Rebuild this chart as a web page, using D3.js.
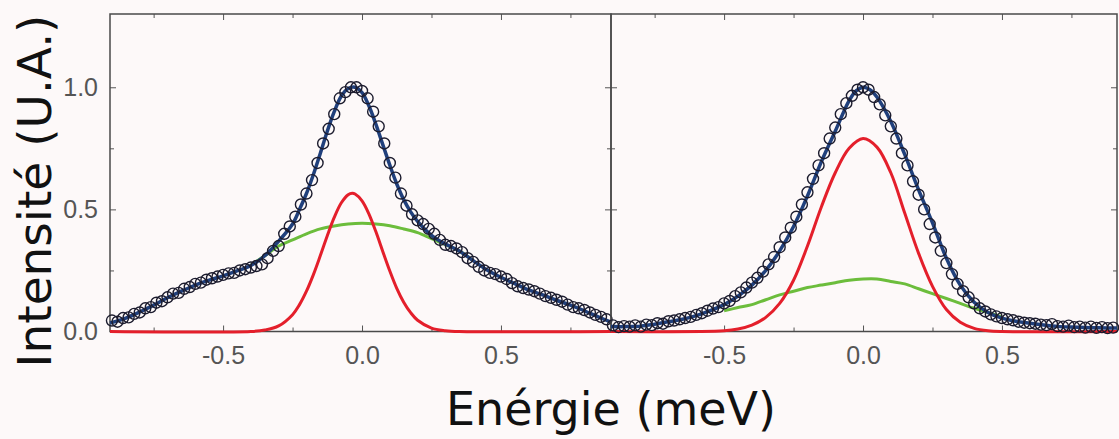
<!DOCTYPE html>
<html><head><meta charset="utf-8">
<script src="https://cdn.jsdelivr.net/npm/d3@7"></script>
<style>html,body{margin:0;padding:0;background:#fdf9f9;}svg{display:block;}</style>
</head><body>
<svg id="chart" width="1119" height="439"></svg>
<script>
// ---------- data ----------
const xTickMajor = [-0.5, 0.0, 0.5];
const xTickMinor = [-0.75, -0.25, 0.25, 0.75];
const yTickMajor = [0.0, 0.5, 1.0];
const yTickMinor = [0.25, 0.75];
const xTickLabels = ["-0.5", "0.0", "0.5"];
const yTickLabels = ["0.0", "0.5", "1.0"];
const xLabel = "Enérgie (meV)";
const yLabel = "Intensité (U.A.)";

// Left panel
const leftFitX = [-0.907,-0.85,-0.80,-0.75,-0.70,-0.65,-0.60,-0.55,-0.50,-0.45,-0.40,-0.35,-0.30,-0.25,-0.225,-0.20,-0.175,-0.15,-0.125,-0.10,-0.075,-0.05,-0.025,0.0,0.025,0.05,0.075,0.10,0.125,0.15,0.175,0.20,0.25,0.30,0.35,0.40,0.45,0.50,0.55,0.60,0.65,0.70,0.75,0.80,0.85,0.896];
const leftFitY = [0.035,0.055,0.08,0.108,0.138,0.165,0.19,0.21,0.228,0.248,0.27,0.31,0.37,0.44,0.50,0.565,0.643,0.73,0.82,0.90,0.963,0.995,1.0,0.978,0.923,0.848,0.764,0.681,0.604,0.54,0.49,0.451,0.394,0.358,0.33,0.29,0.252,0.222,0.196,0.17,0.15,0.128,0.108,0.085,0.06,0.038];
const leftRedX = [-0.907,-0.40,-0.35,-0.30,-0.25,-0.225,-0.20,-0.175,-0.15,-0.125,-0.10,-0.075,-0.05,-0.035,-0.025,0.0,0.025,0.05,0.075,0.10,0.125,0.15,0.175,0.20,0.25,0.30,0.35,0.896];
const leftRedY = [0,0,0.006,0.023,0.069,0.11,0.165,0.233,0.311,0.392,0.467,0.526,0.56,0.566,0.563,0.535,0.481,0.408,0.327,0.248,0.177,0.12,0.077,0.046,0.014,0.0035,0,0];
const leftGreenX = [-0.40,-0.35,-0.30,-0.25,-0.20,-0.15,-0.10,-0.05,0.0,0.05,0.10,0.15,0.20,0.25,0.30,0.35,0.40];
const leftGreenY = [0.272,0.31,0.35,0.375,0.40,0.42,0.432,0.44,0.443,0.44,0.433,0.42,0.405,0.38,0.356,0.33,0.29];
const leftDataX = [-0.90,-0.88,-0.86,-0.84,-0.82,-0.80,-0.78,-0.76,-0.74,-0.72,-0.70,-0.68,-0.66,-0.64,-0.62,-0.60,-0.58,-0.56,-0.54,-0.52,-0.50,-0.48,-0.46,-0.44,-0.42,-0.40,-0.38,-0.36,-0.34,-0.32,-0.30,-0.28,-0.26,-0.24,-0.22,-0.20,-0.18,-0.16,-0.14,-0.12,-0.10,-0.08,-0.06,-0.04,-0.02,0.00,0.02,0.04,0.06,0.08,0.10,0.12,0.14,0.16,0.18,0.20,0.22,0.24,0.26,0.28,0.30,0.32,0.34,0.36,0.38,0.40,0.42,0.44,0.46,0.48,0.50,0.52,0.54,0.56,0.58,0.60,0.62,0.64,0.66,0.68,0.70,0.72,0.74,0.76,0.78,0.80,0.82,0.84,0.86,0.88];
const leftDataY = [0.045,0.04,0.055,0.058,0.072,0.078,0.095,0.10,0.118,0.124,0.14,0.155,0.158,0.175,0.182,0.195,0.20,0.212,0.218,0.225,0.232,0.238,0.24,0.25,0.255,0.262,0.268,0.275,0.30,0.33,0.35,0.40,0.43,0.47,0.52,0.565,0.62,0.69,0.77,0.83,0.89,0.955,0.98,1.0,1.0,0.985,0.955,0.90,0.84,0.77,0.69,0.63,0.565,0.515,0.48,0.455,0.44,0.42,0.40,0.375,0.355,0.35,0.34,0.325,0.30,0.285,0.265,0.25,0.24,0.235,0.225,0.215,0.198,0.185,0.178,0.172,0.165,0.155,0.145,0.138,0.13,0.122,0.11,0.10,0.095,0.088,0.078,0.068,0.06,0.05];

// Right panel
const rightFitX = [-0.907,-0.85,-0.80,-0.75,-0.70,-0.65,-0.60,-0.55,-0.50,-0.45,-0.40,-0.35,-0.30,-0.25,-0.20,-0.15,-0.10,-0.05,-0.025,0.0,0.025,0.05,0.10,0.15,0.20,0.25,0.30,0.35,0.40,0.45,0.50,0.55,0.60,0.65,0.70,0.75,0.80,0.85,0.914];
const rightFitY = [0.02,0.02,0.022,0.03,0.04,0.05,0.065,0.085,0.11,0.145,0.19,0.25,0.33,0.43,0.555,0.695,0.82,0.945,0.985,1.0,0.99,0.96,0.86,0.725,0.58,0.445,0.30,0.19,0.12,0.078,0.055,0.042,0.034,0.027,0.021,0.018,0.016,0.015,0.014];
const rightRedX = [-0.907,-0.50,-0.45,-0.40,-0.35,-0.30,-0.25,-0.20,-0.15,-0.10,-0.05,0.0,0.05,0.10,0.15,0.20,0.25,0.30,0.35,0.40,0.45,0.50,0.914];
const rightRedY = [0,0.003,0.01,0.026,0.058,0.115,0.21,0.35,0.51,0.65,0.75,0.79,0.755,0.65,0.485,0.32,0.185,0.09,0.038,0.013,0.003,0,0];
const rightGreenX = [-0.50,-0.45,-0.40,-0.35,-0.30,-0.25,-0.20,-0.15,-0.10,-0.05,0.0,0.05,0.10,0.15,0.20,0.25,0.30,0.35,0.40,0.45,0.50];
const rightGreenY = [0.085,0.098,0.11,0.13,0.15,0.165,0.18,0.19,0.20,0.21,0.215,0.215,0.205,0.195,0.175,0.155,0.135,0.115,0.095,0.078,0.06];
const rightDataX = [-0.90,-0.88,-0.86,-0.84,-0.82,-0.80,-0.78,-0.76,-0.74,-0.72,-0.70,-0.68,-0.66,-0.64,-0.62,-0.60,-0.58,-0.56,-0.54,-0.52,-0.50,-0.48,-0.46,-0.44,-0.42,-0.40,-0.38,-0.36,-0.34,-0.32,-0.30,-0.28,-0.26,-0.24,-0.22,-0.20,-0.18,-0.16,-0.14,-0.12,-0.10,-0.08,-0.06,-0.04,-0.02,0.00,0.02,0.04,0.06,0.08,0.10,0.12,0.14,0.16,0.18,0.20,0.22,0.24,0.26,0.28,0.30,0.32,0.34,0.36,0.38,0.40,0.42,0.44,0.46,0.48,0.50,0.52,0.54,0.56,0.58,0.60,0.62,0.64,0.66,0.68,0.70,0.72,0.74,0.76,0.78,0.80,0.82,0.84,0.86,0.88,0.90];
const rightDataY = [0.025,0.018,0.022,0.02,0.025,0.02,0.028,0.026,0.034,0.032,0.042,0.045,0.05,0.055,0.06,0.068,0.075,0.085,0.094,0.10,0.115,0.125,0.145,0.16,0.18,0.20,0.22,0.245,0.275,0.305,0.345,0.385,0.425,0.47,0.52,0.57,0.625,0.68,0.73,0.79,0.835,0.89,0.935,0.965,0.99,1.0,0.99,0.96,0.93,0.885,0.84,0.79,0.73,0.68,0.615,0.56,0.50,0.44,0.385,0.33,0.28,0.235,0.195,0.165,0.14,0.115,0.095,0.082,0.07,0.062,0.055,0.05,0.046,0.04,0.036,0.034,0.032,0.028,0.026,0.03,0.022,0.02,0.024,0.018,0.02,0.016,0.02,0.015,0.018,0.014,0.016];

// ---------- layout ----------
const svg = d3.select("#chart");
const yTop = 14, yBot = 331.5;
const y = d3.scaleLinear().domain([0, 1.3]).range([yBot, yTop]);
const panels = [
  {x0:110, x1:611, dom:[-0.907, 0.896], fit:[leftFitX,leftFitY], red:[leftRedX,leftRedY], green:[leftGreenX,leftGreenY], data:[leftDataX,leftDataY], yLabels:true},
  {x0:611, x1:1117, dom:[-0.907, 0.914], fit:[rightFitX,rightFitY], red:[rightRedX,rightRedY], green:[rightGreenX,rightGreenY], data:[rightDataX,rightDataY], yLabels:false}
];
const tickColor = "#555";
const labelFont = "'Liberation Sans', Arial, sans-serif";
const xFmt = d => xTickLabels[xTickMajor.indexOf(d)];
const yFmt = d => yTickLabels[yTickMajor.indexOf(d)];

svg.append("rect").attr("width",1119).attr("height",439).attr("fill","#fdf9f9");

panels.forEach(p => {
  const x = d3.scaleLinear().domain(p.dom).range([p.x0, p.x1]);
  const g = svg.append("g");
  const zip = (a) => a[0].map((v,i)=>[v, a[1][i]]);
  const line = d3.line().x(d=>x(d[0])).y(d=>y(d[1])).curve(d3.curveCatmullRom.alpha(0.5));

  function styleAxis(sel){
    sel.select(".domain").remove();
    sel.selectAll("line").attr("stroke", tickColor).attr("stroke-width",1);
    sel.selectAll("text").attr("fill","#555").style("font-family",labelFont).style("font-size","25px");
  }
  g.append("g").attr("transform",`translate(0,${yBot})`)
    .call(d3.axisBottom(x).tickValues(xTickMajor).tickSize(-6).tickPadding(15).tickFormat(xFmt))
    .call(styleAxis);
  g.append("g").attr("transform",`translate(0,${yBot})`)
    .call(d3.axisBottom(x).tickValues(xTickMinor).tickSize(-4).tickFormat(""))
    .call(styleAxis);
  g.append("g").attr("transform",`translate(0,${yTop})`)
    .call(d3.axisTop(x).tickValues(xTickMajor).tickSize(-6).tickFormat(""))
    .call(styleAxis);
  g.append("g").attr("transform",`translate(0,${yTop})`)
    .call(d3.axisTop(x).tickValues(xTickMinor).tickSize(-4).tickFormat(""))
    .call(styleAxis);
  g.append("g").attr("transform",`translate(${p.x0},0)`)
    .call(d3.axisLeft(y).tickValues(yTickMajor).tickSize(-6).tickPadding(12)
      .tickFormat(p.yLabels ? yFmt : ""))
    .call(styleAxis);
  g.append("g").attr("transform",`translate(${p.x0},0)`)
    .call(d3.axisLeft(y).tickValues(yTickMinor).tickSize(-4).tickFormat(""))
    .call(styleAxis);
  g.append("g").attr("transform",`translate(${p.x1},0)`)
    .call(d3.axisRight(y).tickValues(yTickMajor).tickSize(-6).tickFormat(""))
    .call(styleAxis);
  g.append("g").attr("transform",`translate(${p.x1},0)`)
    .call(d3.axisRight(y).tickValues(yTickMinor).tickSize(-4).tickFormat(""))
    .call(styleAxis);

  g.append("rect").attr("x",p.x0).attr("y",yTop).attr("width",p.x1-p.x0).attr("height",yBot-yTop)
    .attr("fill","none").attr("stroke","#4a4a4a").attr("stroke-width",1.5);

  g.append("path").datum(zip(p.green)).attr("d",line).attr("fill","none")
    .attr("stroke","#6cbd3c").attr("stroke-width",3);
  g.append("path").datum(zip(p.red)).attr("d",line).attr("fill","none")
    .attr("stroke","#e41f2b").attr("stroke-width",3);
  g.append("path").datum(zip(p.fit)).attr("d",line).attr("fill","none")
    .attr("stroke","#20407c").attr("stroke-width",3.5);
  g.append("g").selectAll("circle").data(zip(p.data)).join("circle")
    .attr("cx",d=>x(d[0])).attr("cy",d=>y(d[1])).attr("r",5.5)
    .attr("fill","none").attr("stroke","#1c1c2e").attr("stroke-width",1.4);
});

svg.append("text").attr("x",611).attr("y",425).attr("text-anchor","middle")
  .style("font-family","'DejaVu Sans', sans-serif").style("font-size","46px").attr("fill","#111")
  .text(xLabel);
svg.append("text").attr("transform","translate(51,191) rotate(-90)").attr("text-anchor","middle")
  .style("font-family","'DejaVu Sans', sans-serif").style("font-size","47px").attr("fill","#111")
  .text(yLabel);
</script>
</body></html>
